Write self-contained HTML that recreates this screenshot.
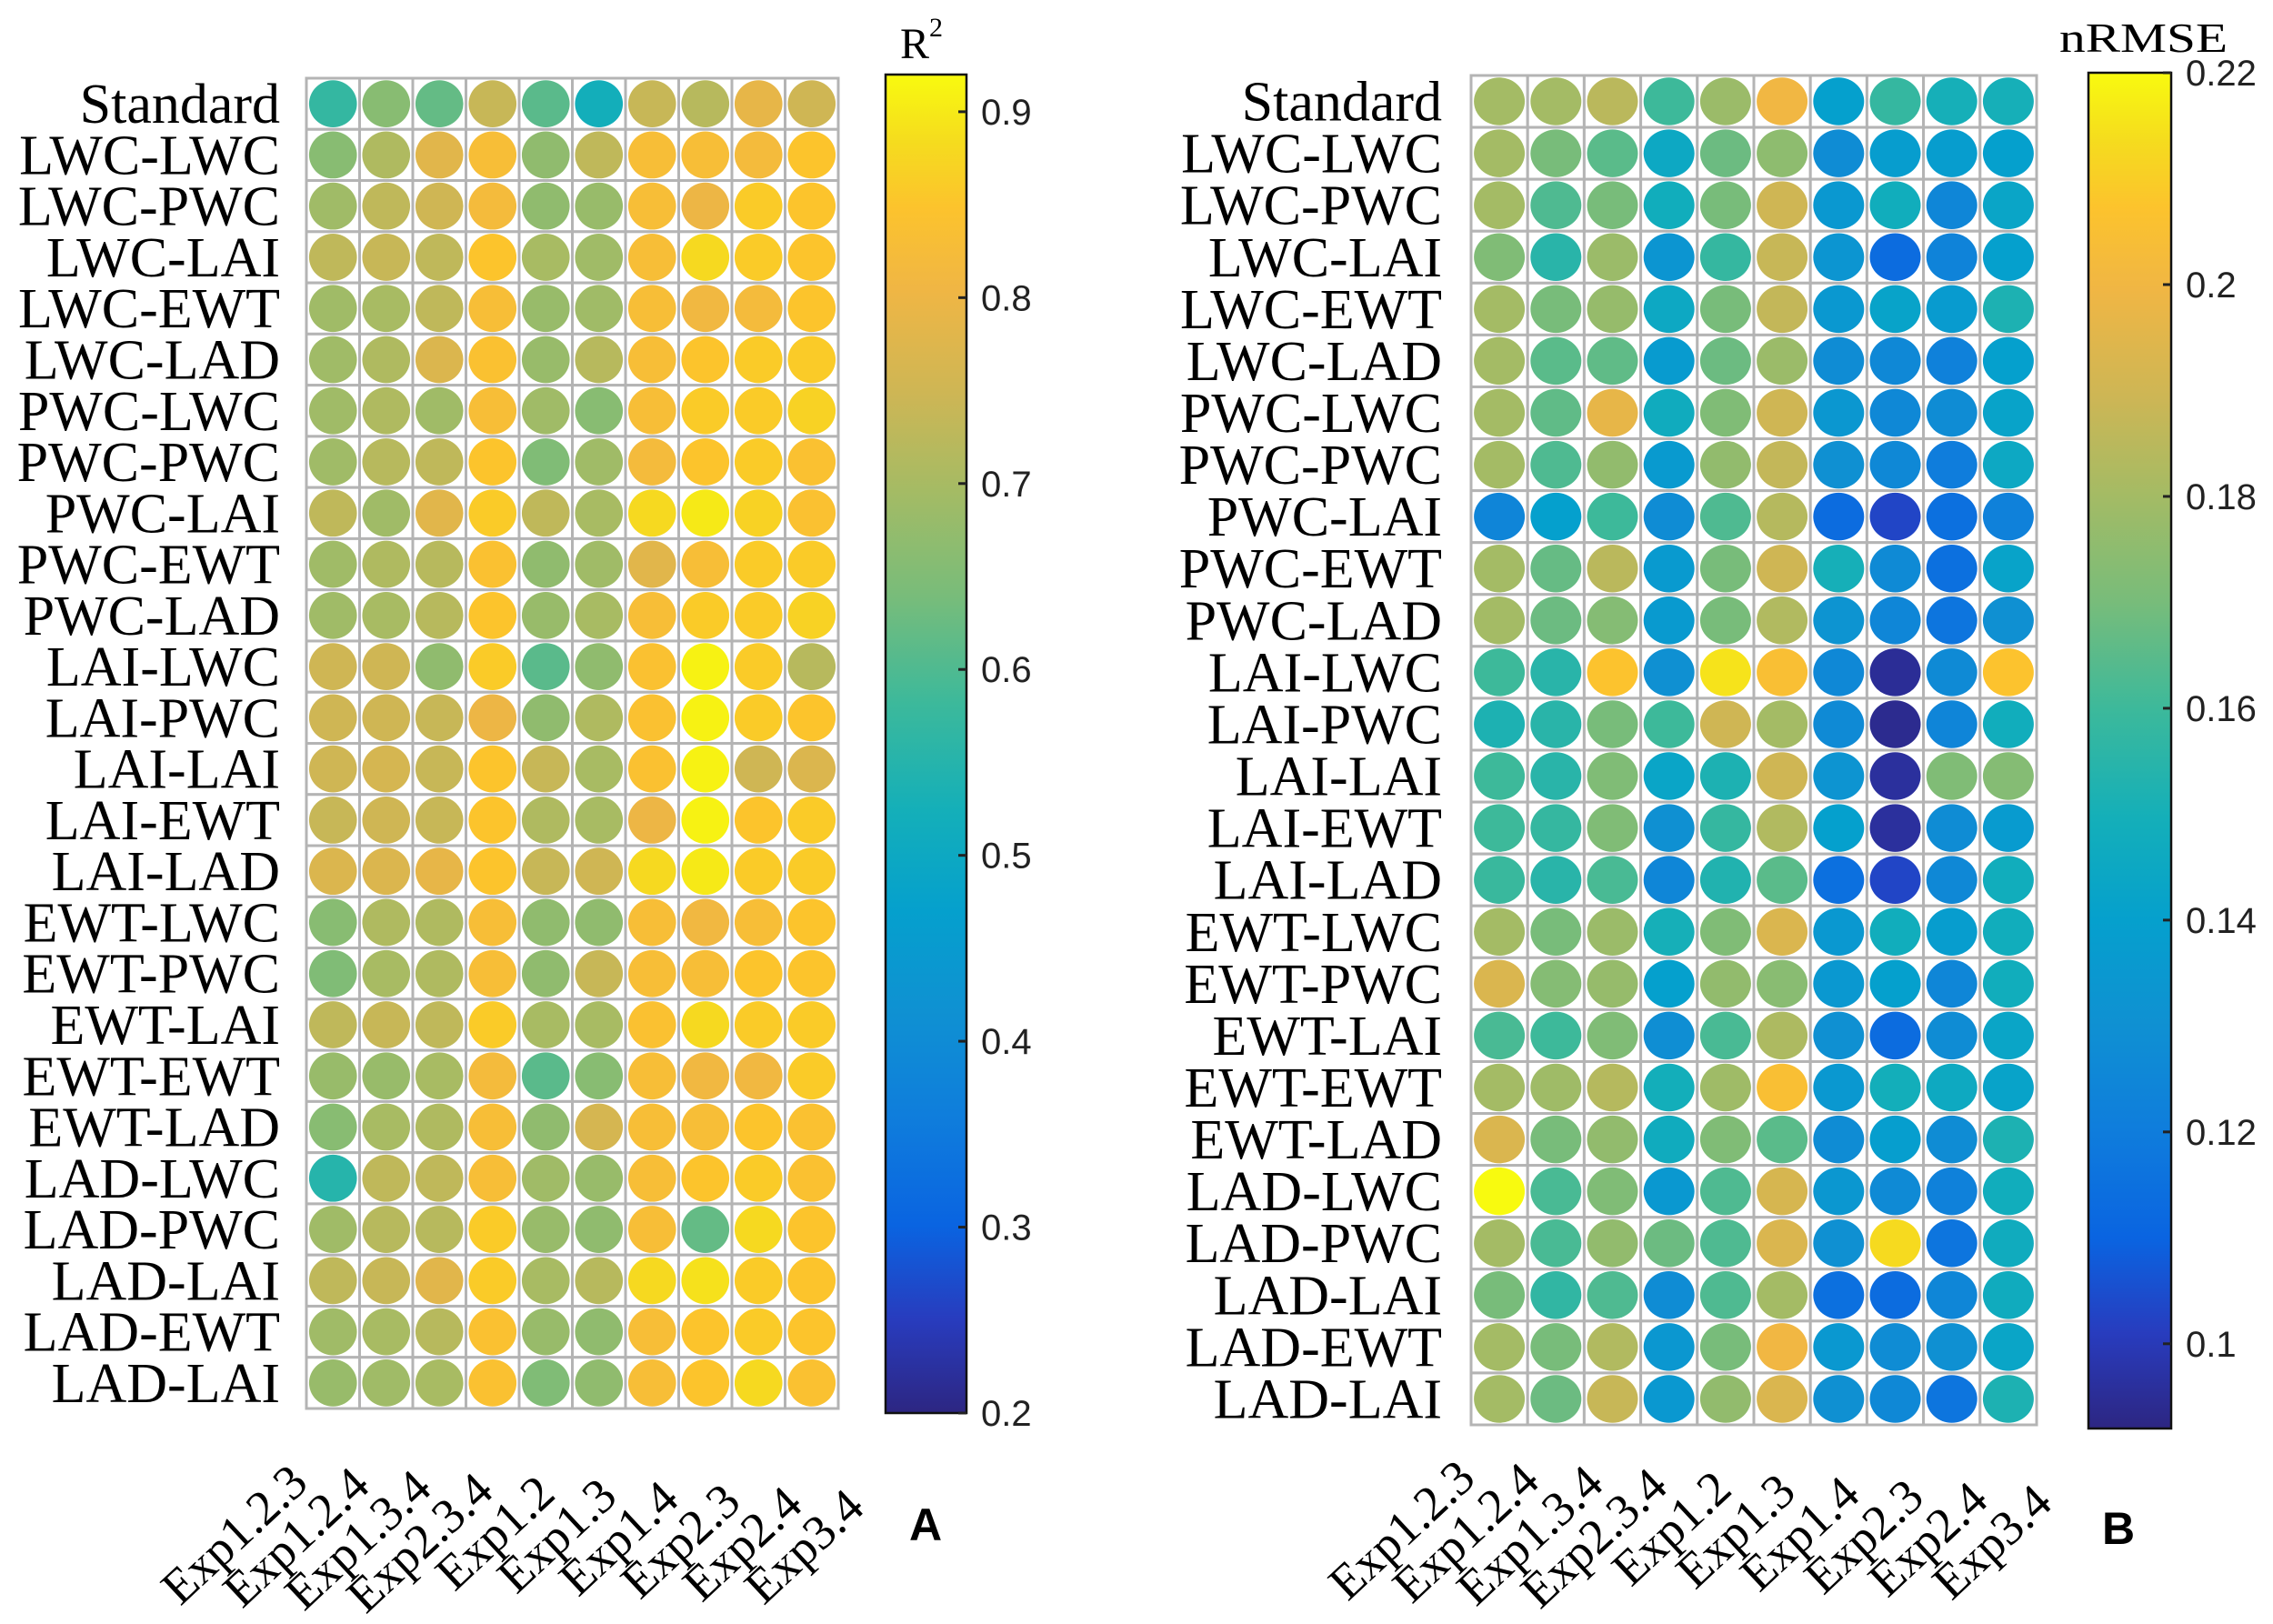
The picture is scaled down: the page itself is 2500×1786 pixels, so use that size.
<!DOCTYPE html>
<html>
<head>
<meta charset="utf-8">
<style>
html,body{margin:0;padding:0;background:#fff;}
svg{display:block;}
</style>
</head>
<body>
<svg id="fig" width="2500" height="1786" viewBox="0 0 2500 1786" xmlns="http://www.w3.org/2000/svg">
<defs>
<linearGradient id="parulaGrad" x1="0" y1="1" x2="0" y2="0"></linearGradient>
</defs>
<g id="panelA"></g>
<g id="panelB"></g>
<text x="1018" y="1694" font-family="Liberation Sans, sans-serif" font-weight="bold" font-size="50" text-anchor="middle">A</text>
<text x="2330" y="1698" font-family="Liberation Sans, sans-serif" font-weight="bold" font-size="50" text-anchor="middle">B</text>
<text x="990" y="64" font-family="Liberation Serif, serif" font-size="48">R<tspan dy="-24" font-size="30">2</tspan></text>
<text x="2265" y="57" font-family="Liberation Serif, serif" font-size="46" textLength="185" lengthAdjust="spacingAndGlyphs">nRMSE</text>
</svg>
<script>
const rowLabels = ["Standard","LWC-LWC","LWC-PWC","LWC-LAI","LWC-EWT","LWC-LAD","PWC-LWC","PWC-PWC","PWC-LAI","PWC-EWT","PWC-LAD","LAI-LWC","LAI-PWC","LAI-LAI","LAI-EWT","LAI-LAD","EWT-LWC","EWT-PWC","EWT-LAI","EWT-EWT","EWT-LAD","LAD-LWC","LAD-PWC","LAD-LAI","LAD-EWT","LAD-LAI"];
const colLabels = ["Exp1.2.3","Exp1.2.4","Exp1.3.4","Exp2.3.4","Exp1.2","Exp1.3","Exp1.4","Exp2.3","Exp2.4","Exp3.4"];
const r2Ticks = [0.2,0.3,0.4,0.5,0.6,0.7,0.8,0.9];
const r2TickLabels = ["0.2","0.3","0.4","0.5","0.6","0.7","0.8","0.9"];
const nrmseTicks = [0.1,0.12,0.14,0.16,0.18,0.2,0.22];
const nrmseTickLabels = ["0.1","0.12","0.14","0.16","0.18","0.2","0.22"];
const r2Range = [0.2,0.92];
const nrmseRange = [0.092,0.22];
const r2Values = [
[0.57,0.66,0.62,0.74,0.61,0.52,0.74,0.72,0.79,0.75],
[0.66,0.71,0.78,0.83,0.67,0.73,0.83,0.83,0.82,0.85],
[0.69,0.73,0.75,0.82,0.67,0.68,0.83,0.80,0.86,0.85],
[0.73,0.74,0.73,0.85,0.70,0.69,0.83,0.88,0.86,0.85],
[0.69,0.70,0.73,0.83,0.68,0.69,0.83,0.81,0.82,0.85],
[0.69,0.71,0.77,0.84,0.68,0.72,0.83,0.85,0.86,0.86],
[0.69,0.71,0.69,0.83,0.69,0.66,0.83,0.86,0.86,0.87],
[0.69,0.72,0.73,0.85,0.65,0.69,0.82,0.85,0.86,0.84],
[0.73,0.69,0.78,0.86,0.73,0.70,0.88,0.90,0.87,0.84],
[0.69,0.71,0.72,0.84,0.67,0.69,0.78,0.83,0.86,0.86],
[0.69,0.70,0.72,0.85,0.68,0.70,0.83,0.86,0.86,0.87],
[0.75,0.75,0.67,0.86,0.61,0.67,0.84,0.91,0.86,0.72],
[0.75,0.75,0.74,0.80,0.67,0.71,0.84,0.91,0.86,0.85],
[0.75,0.76,0.74,0.85,0.74,0.70,0.84,0.91,0.75,0.77],
[0.74,0.75,0.74,0.85,0.71,0.70,0.80,0.91,0.85,0.86],
[0.77,0.77,0.79,0.85,0.74,0.75,0.88,0.90,0.86,0.86],
[0.66,0.71,0.71,0.83,0.67,0.67,0.83,0.81,0.83,0.85],
[0.65,0.70,0.71,0.83,0.67,0.74,0.83,0.83,0.85,0.85],
[0.73,0.74,0.73,0.86,0.70,0.70,0.84,0.88,0.86,0.86],
[0.68,0.68,0.70,0.82,0.61,0.66,0.83,0.81,0.81,0.86],
[0.66,0.70,0.71,0.83,0.67,0.76,0.83,0.83,0.85,0.84],
[0.55,0.73,0.73,0.83,0.69,0.68,0.83,0.85,0.86,0.84],
[0.69,0.72,0.72,0.86,0.68,0.67,0.83,0.62,0.88,0.85],
[0.73,0.74,0.78,0.86,0.70,0.72,0.88,0.89,0.86,0.85],
[0.69,0.70,0.72,0.84,0.68,0.67,0.83,0.85,0.86,0.85],
[0.68,0.69,0.70,0.84,0.65,0.67,0.83,0.85,0.88,0.84]
];
const nrmseValues = [
[0.180,0.180,0.185,0.160,0.178,0.200,0.140,0.158,0.150,0.150],
[0.180,0.170,0.165,0.145,0.168,0.175,0.128,0.138,0.138,0.140],
[0.180,0.163,0.170,0.148,0.170,0.190,0.135,0.148,0.125,0.143],
[0.172,0.155,0.178,0.133,0.158,0.188,0.133,0.113,0.123,0.140],
[0.180,0.170,0.177,0.145,0.170,0.187,0.135,0.142,0.137,0.152],
[0.180,0.165,0.166,0.137,0.168,0.178,0.128,0.126,0.122,0.140],
[0.180,0.166,0.197,0.147,0.172,0.190,0.134,0.126,0.128,0.142],
[0.180,0.163,0.176,0.136,0.176,0.187,0.130,0.126,0.120,0.145],
[0.124,0.140,0.160,0.128,0.163,0.184,0.113,0.103,0.115,0.122],
[0.180,0.167,0.185,0.136,0.170,0.190,0.150,0.127,0.115,0.142],
[0.180,0.168,0.173,0.136,0.170,0.183,0.132,0.125,0.117,0.130],
[0.160,0.155,0.207,0.130,0.215,0.205,0.126,0.095,0.127,0.207],
[0.152,0.155,0.170,0.160,0.190,0.180,0.127,0.094,0.124,0.148],
[0.160,0.155,0.172,0.143,0.152,0.190,0.132,0.096,0.172,0.173],
[0.160,0.158,0.172,0.130,0.158,0.183,0.140,0.096,0.128,0.137],
[0.159,0.155,0.162,0.125,0.153,0.165,0.115,0.103,0.126,0.148],
[0.180,0.170,0.178,0.150,0.172,0.193,0.135,0.148,0.138,0.148],
[0.193,0.173,0.177,0.140,0.176,0.174,0.135,0.140,0.125,0.148],
[0.162,0.160,0.172,0.129,0.162,0.182,0.130,0.113,0.128,0.143],
[0.180,0.179,0.184,0.149,0.179,0.205,0.135,0.149,0.146,0.142],
[0.193,0.170,0.176,0.147,0.172,0.165,0.128,0.139,0.128,0.152],
[0.220,0.162,0.172,0.135,0.163,0.192,0.134,0.127,0.122,0.148],
[0.180,0.162,0.176,0.168,0.163,0.193,0.130,0.213,0.117,0.147],
[0.170,0.157,0.163,0.128,0.163,0.180,0.115,0.113,0.125,0.147],
[0.180,0.170,0.183,0.134,0.170,0.200,0.135,0.128,0.130,0.143],
[0.180,0.168,0.188,0.135,0.176,0.193,0.130,0.126,0.117,0.152]
];

const NS = "http://www.w3.org/2000/svg";
const cmapStops = [
[0,45,38,130],[0.07,40,60,190],[0.14,10,100,225],[0.22,15,125,220],[0.3,15,145,210],
[0.375,5,160,205],[0.45,20,175,185],[0.53,60,185,155],[0.61,120,188,122],[0.69,165,187,100],
[0.76,205,182,85],[0.84,240,182,68],[0.9,252,195,45],[0.95,245,220,30],[1,248,250,15]];
function cmap(t){
  t=Math.max(0,Math.min(1,t));
  for(let i=1;i<cmapStops.length;i++){
    const a=cmapStops[i-1],b=cmapStops[i];
    if(t<=b[0]){
      const f=(t-a[0])/(b[0]-a[0]);
      return "rgb("+[1,2,3].map(k=>Math.round(a[k]+(b[k]-a[k])*f)).join(",")+")";
    }
  }
  return "rgb(248,250,15)";
}
const grad=document.getElementById("parulaGrad");
cmapStops.forEach(s=>{
  const st=document.createElementNS(NS,"stop");
  st.setAttribute("offset",s[0]);
  st.setAttribute("stop-color","rgb("+s[1]+","+s[2]+","+s[3]+")");
  grad.appendChild(st);
});
function mk(parent,tag,attrs,txt){
  const e=document.createElementNS(NS,tag);
  for(const k in attrs) e.setAttribute(k,attrs[k]);
  if(txt!==undefined) e.textContent=txt;
  parent.appendChild(e);
  return e;
}
function drawPanel(g,cfg){
  const nR=rowLabels.length,nC=colLabels.length;
  const cw=(cfg.x1-cfg.x0)/nC, rh=(cfg.y1-cfg.y0)/nR;
  const xs=i=>cfg.x0+(i+0.5)*cw;
  const ys=j=>cfg.y0+(j+0.5)*rh;
  const norm=v=>(v-cfg.range[0])/(cfg.range[1]-cfg.range[0]);
  const cbY=v=>cfg.cbBottom-norm(v)*(cfg.cbBottom-cfg.cbTop);
  for(let j=0;j<nR;j++){
    for(let i=0;i<nC;i++){
      const c=mk(g,"rect",{x:cfg.x0+i*cw,y:cfg.y0+j*rh,width:cw,height:rh,fill:"#fff",stroke:"#b4b4b4","stroke-width":3});
      
      
    }
  }
  for(let j=0;j<nR;j++){
    for(let i=0;i<nC;i++){
      const v=cfg.values[j][i];
      const e=mk(g,"ellipse",{cx:xs(i),cy:ys(j),rx:cw*0.45,ry:rh*0.46,fill:cmap(norm(v))});
      
      
      mk(e,"title",{},rowLabels[j]+" / "+colLabels[i]+": "+v);
    }
  }
  rowLabels.forEach((lab,j)=>{
    const t=mk(g,"text",{x:cfg.labelX,y:ys(j)+21,"text-anchor":"end","font-family":"Liberation Serif, serif","font-size":cfg.rowFont},lab);
    
    
  });
  colLabels.forEach((lab,i)=>{
    const ex=cfg.xlabX0+i*cfg.xlabStep, ey=cfg.xlabY0+i*cfg.xlabDy;
    const t=mk(g,"text",{x:ex,y:ey,"text-anchor":"end","font-family":"Liberation Serif, serif","font-size":54,transform:"rotate(-43 "+ex+" "+ey+")"},lab);
    
    
  });
  const cb=mk(g,"rect",{x:cfg.cbX,y:cfg.cbTop,width:cfg.cbW,height:cfg.cbBottom-cfg.cbTop,fill:"url(#parulaGrad)",stroke:"#111","stroke-width":2.5});
  
  
  cfg.ticks.forEach((v,k)=>{
    const y=cbY(v);
    const tk=mk(g,"line",{x1:cfg.cbX+cfg.cbW-9,x2:cfg.cbX+cfg.cbW,y1:y,y2:y,stroke:"#222","stroke-width":3});
    
    
    const t=mk(g,"text",{x:cfg.cbX+cfg.cbW+16,y:y+14,"font-family":"Liberation Sans, sans-serif","font-size":40,fill:"#222"},cfg.tickLabels[k]);
    
    
  });
}
drawPanel(document.getElementById("panelA"),{
  x0:337,x1:922,y0:86,y1:1549,values:r2Values,range:r2Range,
  labelX:308,rowFont:62,
  xlabX0:341,xlabStep:68,xlabY0:1634,xlabDy:3,
  cbX:974,cbW:89,cbTop:82,cbBottom:1554,ticks:r2Ticks,tickLabels:r2TickLabels
});
drawPanel(document.getElementById("panelB"),{
  x0:1618,x1:2240,y0:83,y1:1567,values:nrmseValues,range:nrmseRange,
  labelX:1586,rowFont:62,
  xlabX0:1625,xlabStep:70.5,xlabY0:1629,xlabDy:3,
  cbX:2297,cbW:91,cbTop:80,cbBottom:1571,ticks:nrmseTicks,tickLabels:nrmseTickLabels
});
</script>
</body>
</html>
